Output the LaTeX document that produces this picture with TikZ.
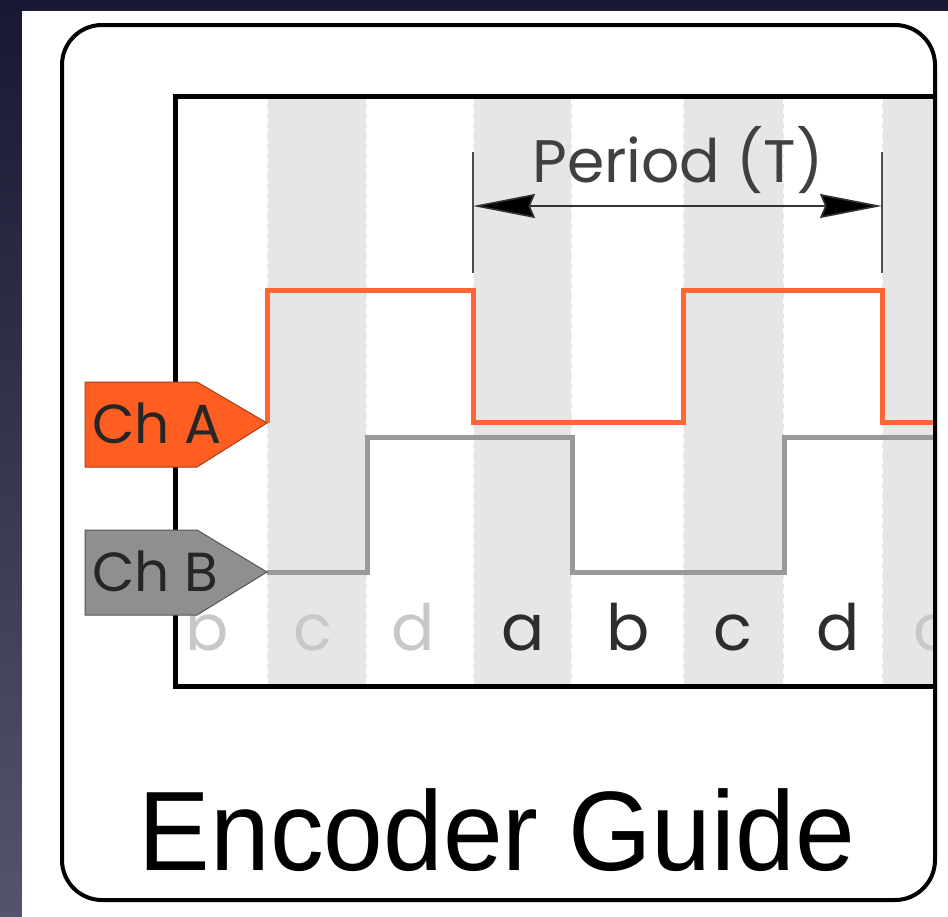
\documentclass[tikz,border=0pt]{standalone}
\usepackage{fontspec}
\setmainfont{Liberation Sans}
\newfontfamily\geo{Poppins}
\usetikzlibrary{arrows.meta}
\definecolor{bgtop}{RGB}{24,24,52}
\definecolor{bgbot}{RGB}{84,84,108}
\definecolor{stripe}{RGB}{230,230,230}
\definecolor{orangeA}{RGB}{255,102,51}
\definecolor{orangeFill}{RGB}{255,94,34}
\definecolor{orangeEdge}{RGB}{170,60,20}
\definecolor{greyB}{RGB}{153,153,153}
\definecolor{greyFill}{RGB}{143,143,143}
\definecolor{greyEdge}{RGB}{85,85,85}
\definecolor{lightlet}{RGB}{200,200,200}
\definecolor{darklet}{RGB}{45,45,45}
\definecolor{pertext}{RGB}{64,64,64}
\tikzset{
  sigA/.style={draw=orangeA,line width=5pt,line join=miter},
  sigB/.style={draw=greyB,line width=5pt,line join=miter},
  sep/.style={draw=white,line width=2pt,dash pattern=on 6pt off 4pt},
  letter/.style={font=\geo\fontsize{64}{64}\selectfont,anchor=base,inner sep=0pt},
  lettL/.style={letter,text=lightlet},
  lettD/.style={letter,text=darklet},
  chlabel/.style={font=\geo\fontsize{55}{55}\selectfont,anchor=base west,inner sep=0pt,text=black!85},
  tick/.style={draw=black!70,line width=2pt},
  perarrow/.style={draw=black!80,line width=1.6pt,{Stealth[length=62pt,width=24pt,inset=5pt,fill=black]}-{Stealth[length=62pt,width=24pt,inset=5pt,fill=black]}}
}
\begin{document}
\begin{tikzpicture}[x=1pt,y=-1pt]
\useasboundingbox (0,0) rectangle (948,916);
\shade[top color=bgtop,bottom color=bgbot] (0,0) rectangle (948,916);
\fill[white] (22,11) rectangle (948,917);
% plot area
\begin{scope}
\clip (175,96) rectangle (933,686);
\fill[stripe] (267,96) rectangle (367,686);
\fill[stripe] (473,96) rectangle (572,686);
\fill[stripe] (683,96) rectangle (784,686);
\fill[stripe] (882,96) rectangle (948,686);
\foreach \x in {267,367,473,572,683,784,882}{\draw[sep] (\x,98) -- (\x,686);}
\node[lettL] (l1) at (207,650) {b};
\node[lettL] (l2) at (313,650) {c};
\node[lettL] (l3) at (413,650) {d};
\node[lettD] (l4) at (523,650) {a};
\node[lettD] (l5) at (628,650) {b};
\node[lettD] (l6) at (733,650) {c};
\node[lettD] (l7) at (838,650) {d};
\node[lettL] (l8) at (933,650) {c};
\coordinate (tipA) at (267,423);
\coordinate (tipB) at (267,572);
\draw[sigA] (tipA) -- (267,290) -- (473,290) -- (473,422) -- (683,422) -- (683,290) -- (882,290) -- (882,422) -- (948,422);
\draw[sigB] (tipB) -- (367,572) -- (367,437) -- (572,437) -- (572,572) -- (784,572) -- (784,437) -- (948,437);
\end{scope}
\draw[line width=5pt] (935,96) -- (175,96) -- (175,686) -- (935,686);
% period
\coordinate (pL) at (473,206);
\coordinate (pR) at (882,206);
\draw[tick] (473,152) -- (473,273);
\draw[tick] (882,152) -- (882,273);
\draw[perarrow] (pL) -- (pR);
\node[font=\geo\fontsize{60}{60}\selectfont,text=pertext,anchor=base,inner sep=0pt] (period) at (678,182) {Period (T)};
% channel labels
\draw[fill=orangeFill,draw=orangeEdge,line width=1pt] (85,382) -- (197,382) -- (tipA) -- (197,467) -- (85,467) -- cycle;
\draw[fill=greyFill,draw=greyEdge,line width=1pt] (85,530) -- (197,530) -- (tipB) -- (197,615) -- (85,615) -- cycle;
\node[chlabel] (chA) at (92,443) {Ch A};
\node[chlabel] (chB) at (92,591) {Ch B};
% title
\node[font=\fontsize{113}{113}\selectfont,anchor=base,inner sep=0pt] (title) at (497,870) {\scalebox{0.95}[1]{Encoder Guide}};
% outer frame
\draw[line width=4pt,rounded corners=40pt] (62,25) rectangle (935,900);
\end{tikzpicture}
\end{document}
